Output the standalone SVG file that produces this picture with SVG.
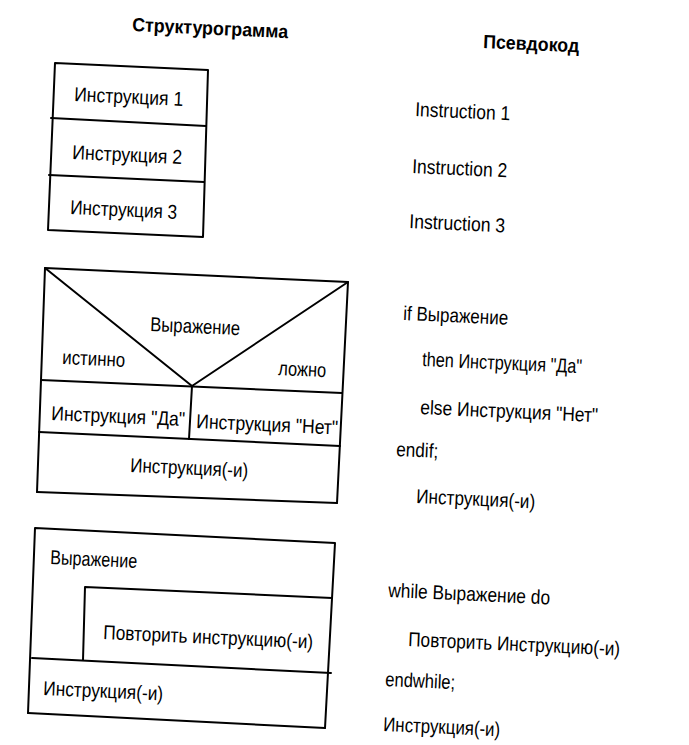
<svg xmlns="http://www.w3.org/2000/svg" width="689" height="745" viewBox="0 0 689 745">
<style>
.ln{fill:none;stroke:#000;stroke-width:2;stroke-linejoin:round;stroke-linecap:round}
text{font-family:"Liberation Sans",Arial,sans-serif;font-size:20px;fill:#000}
.h{font-weight:bold;font-size:19px}
</style>
<rect width="689" height="745" fill="#fff"/>
<g id="titles">
<text class="h" x="132" y="31" transform="rotate(2.6 132 31)" textLength="156" lengthAdjust="spacingAndGlyphs">Структурограмма</text>
<text class="h" x="483" y="48" transform="rotate(2.6 483 48)" textLength="96" lengthAdjust="spacingAndGlyphs">Псевдокод</text>
</g>
<g id="sequence">
<polygon class="ln" points="55,63 208,70 203,237 48,230"/>
<line class="ln" x1="51" y1="118" x2="206" y2="126"/>
<line class="ln" x1="49" y1="175" x2="204" y2="182"/>
<text x="74" y="101" transform="rotate(2.6 74 101)" textLength="109" lengthAdjust="spacingAndGlyphs">Инструкция  1</text>
<text x="72" y="159" transform="rotate(2.6 72 159)" textLength="110" lengthAdjust="spacingAndGlyphs">Инструкция 2</text>
<text x="70" y="214" transform="rotate(2.6 70 214)" textLength="107" lengthAdjust="spacingAndGlyphs">Инструкция 3</text>
</g>
<g id="branch">
<polyline class="ln" points="37,492 45,268 348,282 337,503"/>
<polyline class="ln" points="45,268 192,386 348,282"/>
<line class="ln" x1="41" y1="380" x2="342" y2="393"/>
<line class="ln" x1="192" y1="386" x2="189" y2="439"/>
<line class="ln" x1="39" y1="432" x2="340" y2="446"/>
<line class="ln" x1="37" y1="492" x2="337" y2="503"/>
<text x="150" y="331" transform="rotate(2.6 150 331)" textLength="90" lengthAdjust="spacingAndGlyphs">Выражение</text>
<text x="62" y="364" transform="rotate(2.6 62 364)" textLength="63" lengthAdjust="spacingAndGlyphs">истинно</text>
<text x="278" y="375" transform="rotate(2.6 278 375)" textLength="48" lengthAdjust="spacingAndGlyphs">ложно</text>
<text x="51" y="420" transform="rotate(2.6 51 420)" textLength="134" lengthAdjust="spacingAndGlyphs">Инструкция  "Да"</text>
<text x="196" y="428" transform="rotate(2.6 196 428)" textLength="142" lengthAdjust="spacingAndGlyphs">Инструкция  "Нет"</text>
<text x="130" y="472" transform="rotate(2.6 130 472)" textLength="118" lengthAdjust="spacingAndGlyphs">Инструкция(-и)</text>
</g>
<g id="loop">
<polyline class="ln" points="28,713 35,528 335,543 325,728"/>
<polyline class="ln" points="83,660 85,587 332,598"/>
<line class="ln" x1="32" y1="658" x2="331" y2="673"/>
<line class="ln" x1="28" y1="713" x2="325" y2="728"/>
<text x="50" y="564" transform="rotate(2.6 50 564)" textLength="87" lengthAdjust="spacingAndGlyphs">Выражение</text>
<text x="103" y="639" transform="rotate(2.6 103 639)" textLength="210" lengthAdjust="spacingAndGlyphs">Повторить  инструкцию(-и)</text>
<text x="43" y="695" transform="rotate(2.6 43 695)" textLength="120" lengthAdjust="spacingAndGlyphs">Инструкция(-и)</text>
</g>
<g id="pseudocode">
<text x="415" y="116" transform="rotate(2.6 415 116)" textLength="95" lengthAdjust="spacingAndGlyphs">Instruction  1</text>
<text x="412" y="173" transform="rotate(2.6 412 173)" textLength="95" lengthAdjust="spacingAndGlyphs">Instruction 2</text>
<text x="409" y="228" transform="rotate(2.6 409 228)" textLength="96" lengthAdjust="spacingAndGlyphs">Instruction 3</text>
<text x="403" y="320" transform="rotate(2.6 403 320)" textLength="105" lengthAdjust="spacingAndGlyphs">if Выражение</text>
<text x="422" y="366" transform="rotate(2.6 422 366)" textLength="160" lengthAdjust="spacingAndGlyphs">then Инструкция "Да"</text>
<text x="420" y="414" transform="rotate(2.6 420 414)" textLength="178" lengthAdjust="spacingAndGlyphs">else Инструкция "Нет"</text>
<text x="396" y="456" transform="rotate(2.6 396 456)" textLength="42" lengthAdjust="spacingAndGlyphs">endif;</text>
<text x="416" y="503" transform="rotate(2.6 416 503)" textLength="119" lengthAdjust="spacingAndGlyphs">Инструкция(-и)</text>
<text x="388" y="597" transform="rotate(2.6 388 597)" textLength="162" lengthAdjust="spacingAndGlyphs">while Выражение do</text>
<text x="408" y="646" transform="rotate(2.6 408 646)" textLength="212" lengthAdjust="spacingAndGlyphs">Повторить Инструкцию(-и)</text>
<text x="385" y="686" transform="rotate(2.6 385 686)" textLength="70" lengthAdjust="spacingAndGlyphs">endwhile;</text>
<text x="383" y="731" transform="rotate(2.6 383 731)" textLength="117" lengthAdjust="spacingAndGlyphs">Инструкция(-и)</text>
</g>
</svg>
